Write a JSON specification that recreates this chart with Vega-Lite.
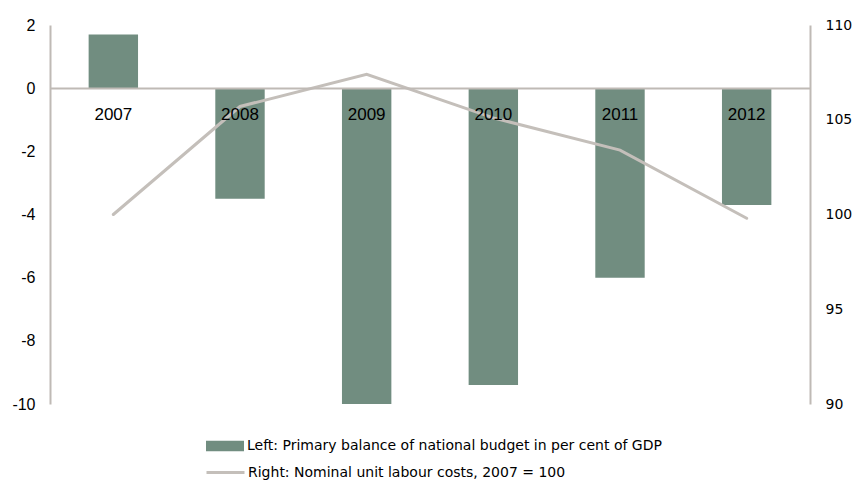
{
  "$schema": "https://vega.github.io/schema/vega-lite/v6.json",
  "width": 760,
  "height": 379,
  "autosize": {"type": "none"},
  "padding": {"left": 50, "top": 25, "right": 48, "bottom": 79},
  "background": "white",
  "config": {"view": {"stroke": null}},
  "data": {"values": [
    {"year": "2007", "balance": 1.7, "ulc": 100.0, "s1": "Left: Primary balance of national budget in per cent of GDP", "s2": "Right: Nominal unit labour costs, 2007 = 100"},
    {"year": "2008", "balance": -3.5, "ulc": 105.7, "s1": "Left: Primary balance of national budget in per cent of GDP", "s2": "Right: Nominal unit labour costs, 2007 = 100"},
    {"year": "2009", "balance": -10.0, "ulc": 107.4, "s1": "Left: Primary balance of national budget in per cent of GDP", "s2": "Right: Nominal unit labour costs, 2007 = 100"},
    {"year": "2010", "balance": -9.4, "ulc": 105.1, "s1": "Left: Primary balance of national budget in per cent of GDP", "s2": "Right: Nominal unit labour costs, 2007 = 100"},
    {"year": "2011", "balance": -6.0, "ulc": 103.4, "s1": "Left: Primary balance of national budget in per cent of GDP", "s2": "Right: Nominal unit labour costs, 2007 = 100"},
    {"year": "2012", "balance": -3.7, "ulc": 99.8, "s1": "Left: Primary balance of national budget in per cent of GDP", "s2": "Right: Nominal unit labour costs, 2007 = 100"}
  ]},
  "encoding": {
    "x": {
      "field": "year", "type": "nominal", "title": null,
      "scale": {"paddingInner": 0.61, "paddingOuter": 0.305},
      "axis": {
        "orient": "bottom", "offset": -316, "domainColor": "#bfbab5", "domainWidth": 2,
        "ticks": false, "labelAngle": 0, "labelPadding": 18, "labelFont": "Liberation Sans",
        "labelFontSize": 17, "labelColor": "#000000", "grid": false, "zindex": 1
      }
    }
  },
  "layer": [
    {
      "mark": {"type": "bar"},
      "encoding": {
        "y": {
          "field": "balance", "type": "quantitative", "title": null,
          "scale": {"domain": [-10, 2], "nice": false, "zero": true},
          "axis": {
            "orient": "left", "values": [-10, -8, -6, -4, -2, 0, 2], "grid": false, "ticks": false,
            "labelExpr": "'' + datum.value",
            "domainColor": "#bfbab5", "domainWidth": 2, "labelPadding": 15,
            "labelFont": "Liberation Sans", "labelFontSize": 16, "labelColor": "#000000"
          }
        },
        "color": {
          "field": "s1", "type": "nominal", "title": null,
          "scale": {"range": ["#718d80"]},
          "legend": {
            "orient": "none", "legendX": 155, "legendY": 401,
            "symbolType": "M-1,-0.27H1V0.27H-1Z", "symbolSize": 1444, "symbolOpacity": 1,
            "labelFont": "DejaVu Sans", "labelFontSize": 14, "labelColor": "#000000", "labelOffset": 2, "labelLimit": 600
          }
        }
      }
    },
    {
      "mark": {"type": "line", "strokeWidth": 3, "strokeCap": "round"},
      "encoding": {
        "y": {
          "field": "ulc", "type": "quantitative", "title": null,
          "scale": {"domain": [90, 110], "nice": false, "zero": false},
          "axis": {
            "orient": "right", "values": [90, 95, 100, 105, 110], "grid": false, "ticks": false,
            "domainColor": "#bfbab5", "domainWidth": 2, "labelPadding": 15,
            "labelFont": "DejaVu Sans", "labelFontSize": 14, "labelColor": "#000000"
          }
        },
        "stroke": {
          "field": "s2", "type": "nominal", "title": null,
          "scale": {"range": ["#c4bfba"]},
          "legend": {
            "orient": "none", "legendX": 155, "legendY": 427,
            "symbolType": "stroke", "symbolSize": 1444, "symbolStrokeWidth": 3,
            "labelFont": "DejaVu Sans", "labelFontSize": 14, "labelColor": "#000000", "labelOffset": 2, "labelLimit": 600
          }
        }
      }
    }
  ],
  "resolve": {"scale": {"y": "independent"}}
}
